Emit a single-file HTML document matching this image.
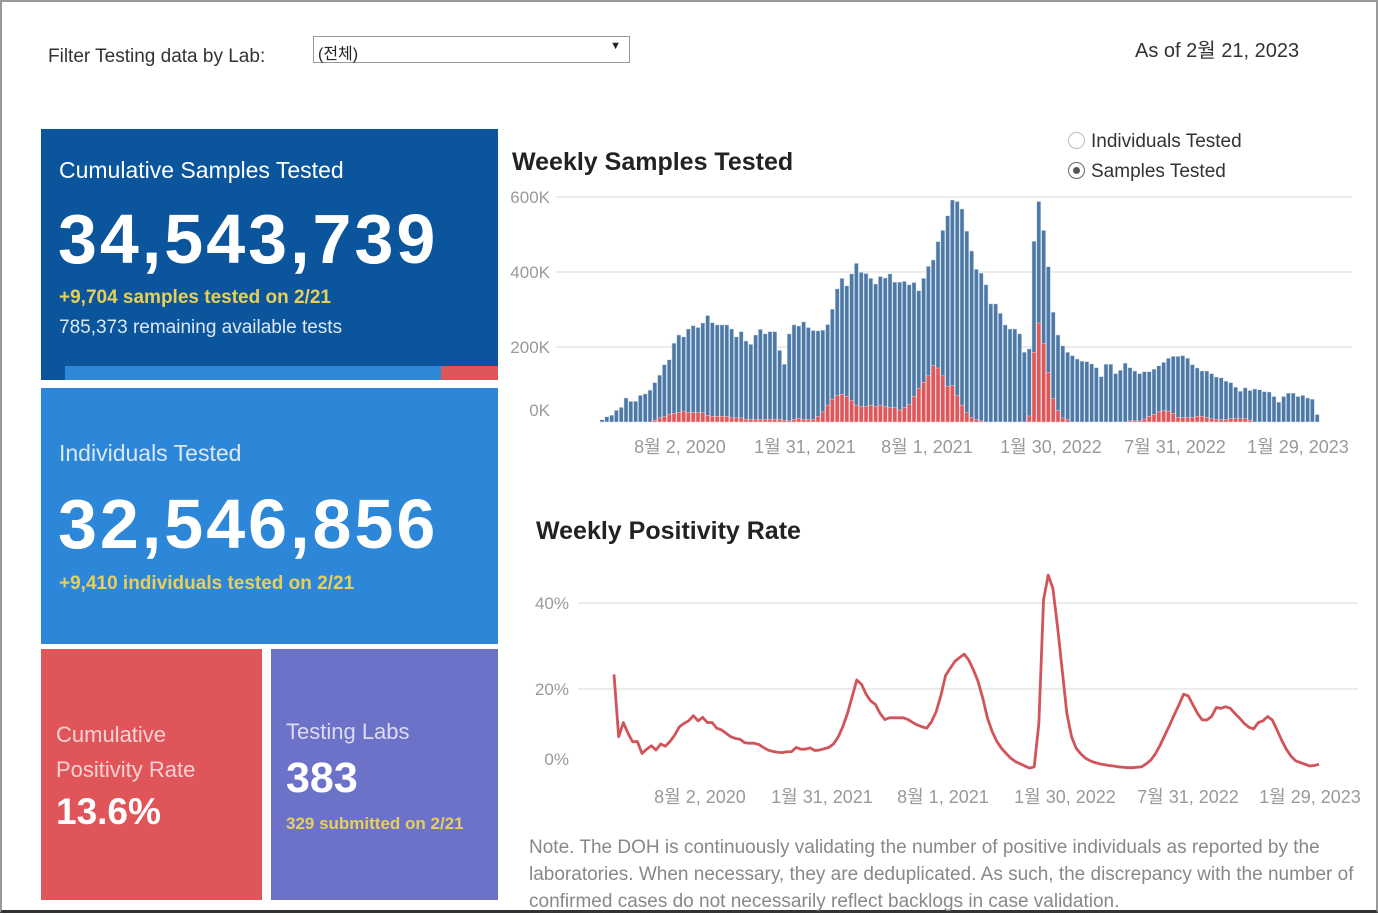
<!DOCTYPE html>
<html><head><meta charset="utf-8">
<style>
body{margin:0;width:1378px;height:914px;overflow:hidden;background:#fff;font-family:"Liberation Sans","Noto Sans CJK KR",sans-serif;position:relative}
.abs{position:absolute}
.panel{position:absolute;color:#fff}
</style></head><body>
<div class="abs" style="left:0;top:0;width:1374px;height:908px;border:2px solid #999;border-bottom:3px solid #333;"></div>
<div class="abs" style="left:48px;top:46px;font-size:19px;color:#333">Filter Testing data by Lab:</div>
<div class="abs" style="left:313px;top:36px;width:317px;height:27px;border:1px solid #999;font-size:16px;color:#222;box-sizing:border-box;padding:3px 4px">(전체)<span style="position:absolute;right:8px;top:3px;font-size:11px">▼</span></div>
<div class="abs" style="left:1135px;top:34px;font-size:20px;color:#333">As of 2월 21, 2023</div>

<div class="panel" style="left:41px;top:129px;width:457px;height:251px;background:#0a559c">
 <div class="abs" style="left:18px;top:28px;font-size:23px">Cumulative Samples Tested</div>
 <div class="abs" style="left:17px;top:70px;font-size:70px;font-weight:bold;letter-spacing:3px">34,543,739</div>
 <div class="abs" style="left:18px;top:158px;font-size:19px;font-weight:bold;color:#e8cf5a">+9,704 samples tested on 2/21</div>
 <div class="abs" style="left:18px;top:188px;font-size:19px;color:#dde8f4">785,373 remaining available tests</div>
 <div class="abs" style="left:24px;top:237px;width:376px;height:14px;background:#2e88d8"></div>
 <div class="abs" style="left:400px;top:237px;width:57px;height:14px;background:#e0555a"></div>
</div>
<div class="panel" style="left:41px;top:388px;width:457px;height:256px;background:#2d87d8">
 <div class="abs" style="left:18px;top:52px;font-size:23px;color:#dbe8f6">Individuals Tested</div>
 <div class="abs" style="left:17px;top:96px;font-size:70px;font-weight:bold;letter-spacing:3px">32,546,856</div>
 <div class="abs" style="left:18px;top:185px;font-size:19px;font-weight:bold;color:#e8cf5a">+9,410 individuals tested on 2/21</div>
</div>
<div class="panel" style="left:41px;top:649px;width:221px;height:251px;background:#e0555a">
 <div class="abs" style="left:15px;top:68px;font-size:22px;line-height:35px;color:#f6d3d3">Cumulative<br>Positivity Rate</div>
 <div class="abs" style="left:15px;top:142px;font-size:37px;font-weight:bold">13.6%</div>
</div>
<div class="panel" style="left:271px;top:649px;width:227px;height:251px;background:#6b72c7">
 <div class="abs" style="left:15px;top:70px;font-size:22px;color:#dcdcf2">Testing Labs</div>
 <div class="abs" style="left:15px;top:105px;font-size:43px;font-weight:bold">383</div>
 <div class="abs" style="left:15px;top:165px;font-size:17px;font-weight:bold;color:#e8cf5a">329 submitted on 2/21</div>
</div>

<div class="abs" style="left:512px;top:148px;font-size:25px;font-weight:bold;color:#222">Weekly Samples Tested</div>
<div class="abs" style="left:1068px;top:131px;font-size:19px;color:#333"><span style="display:inline-block;width:15px;height:15px;border:1px solid #bbb;border-radius:50%;vertical-align:-2px;margin-right:6px"></span>Individuals Tested</div>
<div class="abs" style="left:1068px;top:161px;font-size:19px;color:#333"><span style="display:inline-block;width:15px;height:15px;border:1px solid #666;border-radius:50%;vertical-align:-2px;margin-right:6px;position:relative"><span style="position:absolute;left:4px;top:4px;width:7px;height:7px;border-radius:50%;background:#555"></span></span>Samples Tested</div>

<div class="abs" style="left:536px;top:517px;font-size:25px;font-weight:bold;color:#222">Weekly Positivity Rate</div>
<div class="abs" style="left:529px;top:834px;width:840px;font-size:19px;line-height:27px;color:#888">Note. The DOH is continuously validating the number of positive individuals as reported by the laboratories. When necessary, they are deduplicated. As such, the discrepancy with the number of confirmed cases do not necessarily reflect backlogs in case validation.</div>

<svg class="abs" style="left:0;top:0" width="1378" height="914" id="svg"></svg>
<script>
const samples=[6,14,18,31,39,64,55,55,71,75,85,105,125,153,166,210,232,227,248,257,252,264,284,265,259,259,259,248,227,241,216,207,232,247,235,241,241,191,154,235,259,256,267,252,244,243,245,260,301,355,383,363,395,423,399,396,383,368,388,384,395,373,373,375,366,372,350,383,415,432,481,511,550,592,588,568,509,456,407,397,366,315,315,290,259,248,248,235,186,195,482,588,511,414,293,232,203,186,177,168,162,161,155,145,121,154,154,129,138,157,145,136,129,134,134,141,150,159,170,175,175,177,170,153,144,136,136,129,120,118,109,105,93,82,91,84,88,86,81,80,68,53,68,77,77,68,71,64,61,20];
const positives=[0,0,0,0,0,0,0,0,0,0,0,5,11,14,21,23,25,29,25,25,25,25,18,15,15,15,15,11,11,11,7,7,7,7,7,7,7,7,5,3,7,10,7,7,7,14,27,45,61,70,74,68,57,45,41,41,45,41,45,41,38,38,32,38,47,68,89,106,123,150,144,123,95,97,70,45,25,12,6,3,0,0,0,0,0,0,0,0,0,16,186,264,209,132,62,30,11,6,0,0,0,0,0,0,0,0,0,0,0,0,3,3,3,8,15,20,27,30,29,23,12,12,12,12,15,15,12,9,7,6,6,9,9,9,9,5,0,0,0,0,0,0,0,0,0,0,0,0,0,0];
const sampleTicks=[0,200,400,600];
const sampleTickLabels=["0K","200K","400K","600K"];
const positivity=[23.4,8.9,12.2,9.7,7.7,7.8,5.0,6.0,6.8,5.8,7.2,6.7,7.8,9.3,11.2,12.0,12.6,13.8,12.6,13.4,12.2,12.2,10.9,10.5,9.7,8.9,8.5,8.3,7.5,7.4,7.4,7.1,6.4,5.8,5.5,5.3,5.2,5.4,5.4,6.4,6.0,6.0,6.3,5.7,5.8,6.1,6.4,7.2,8.8,11.2,14.3,18.2,22.1,21.1,18.8,17.2,16.4,14.3,12.9,13.3,13.3,13.3,13.3,12.9,12.2,11.6,11.2,10.9,12.4,14.7,18.4,23.1,24.8,26.4,27.3,28.1,26.7,24.4,21.7,17.8,13.2,10.1,7.8,6.2,5.0,3.9,3.1,2.6,2.1,1.6,1.9,12.0,40.7,46.5,43.4,34.5,24.4,14.3,8.9,6.2,4.9,3.9,3.3,2.9,2.6,2.4,2.2,2.1,1.9,1.8,1.7,1.7,1.8,1.9,2.6,3.5,5.0,7.0,9.3,11.6,14.0,16.3,18.8,18.4,16.3,14.3,12.8,12.8,13.6,15.7,15.5,15.9,15.5,14.3,13.2,12.0,11.1,10.7,12.2,12.6,13.6,12.8,10.5,8.1,6.0,4.4,3.3,2.9,2.5,2.1,2.2,2.5];
const posTicks=[0,20,40];
const posTickLabels=["0%","20%","40%"];
const dateLabels=["8월 2, 2020","1월 31, 2021","8월 1, 2021","1월 30, 2022","7월 31, 2022","1월 29, 2023"];

const NS="http://www.w3.org/2000/svg",svg=document.getElementById('svg');
function mk(t,a,p){const e=document.createElementNS(NS,t);for(const k in a)e.setAttribute(k,a[k]);(p||svg).appendChild(e);return e;}
const bx=i=>600+i*4.8, by=v=>422-v*0.375;
sampleTicks.forEach((t,i)=>{
 if(t>0){const g=mk('line',{x1:556,x2:1352,y1:by(t),y2:by(t),stroke:'#e6e6e6','stroke-width':1.5});
 
 }
 const l=mk('text',{x:550,y:(t===0?by(t)-6:by(t)+6),'text-anchor':'end','font-size':17,fill:'#999','font-family':'Liberation Sans'});
 l.textContent=sampleTickLabels[i];
 
 
});
samples.forEach((v,i)=>{
 const r=mk('rect',{x:bx(i),y:by(v),width:4,height:v*0.375,fill:'#4e79a7',stroke:'#cfe0ee','stroke-width':0.5});
 
 
 if(positives[i]>0){const p=mk('rect',{x:bx(i),y:by(positives[i]),width:4,height:positives[i]*0.375,fill:'#e15759',stroke:'#f3d0d0','stroke-width':0.5});
 
 }
});
const dateX1=[680,805,927,1051,1175,1298];
dateLabels.forEach((d,i)=>{
 const t=mk('text',{x:dateX1[i],y:453,'text-anchor':'middle','font-size':18,fill:'#999','font-family':'Liberation Sans, Noto Sans CJK KR'});
 t.textContent=d;
 
 
});
const lx=i=>614+i*(1319-614)/(positivity.length-1), ly=v=>775-v*4.3;
posTicks.forEach((t,i)=>{
 if(t>0){const g=mk('line',{x1:578,x2:1358,y1:ly(t),y2:ly(t),stroke:'#e6e6e6','stroke-width':1.5});
 
 }
 const l=mk('text',{x:569,y:(t===0?765:ly(t)+6),'text-anchor':'end','font-size':17,fill:'#999','font-family':'Liberation Sans'});
 l.textContent=posTickLabels[i];
 
 
});
const pl=mk('polyline',{points:positivity.map((v,i)=>lx(i)+','+ly(v)).join(' '),fill:'none',stroke:'#d1545a','stroke-width':2.8,'stroke-linejoin':'round'});


const dateX2=[700,822,943,1065,1188,1310];
dateLabels.forEach((d,i)=>{
 const t=mk('text',{x:dateX2[i],y:803,'text-anchor':'middle','font-size':18,fill:'#999','font-family':'Liberation Sans, Noto Sans CJK KR'});
 t.textContent=d;
 
 
});
</script>
</body></html>
